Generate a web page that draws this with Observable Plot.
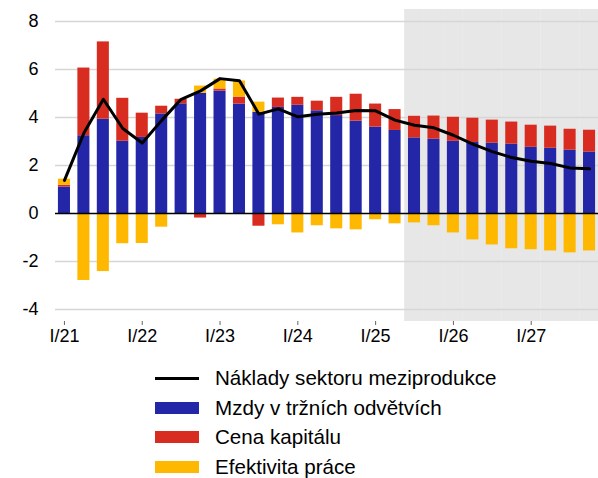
<!DOCTYPE html>
<html>
<head>
<meta charset="utf-8">
<script src="https://cdn.jsdelivr.net/npm/d3@7"></script>
<script src="https://cdn.jsdelivr.net/npm/@observablehq/plot@0.6"></script>
<style>
  body { margin: 0; background: #fff; font-family: "Liberation Sans", Arial, sans-serif; }
  #legend { margin-top: 11px; }
  .row { position: relative; height: 29.5px; }
  .sw { position: absolute; left: 155px; top: 9px; width: 44px; height: 12px; }
  .ln { position: absolute; left: 155px; top: 13.5px; width: 44px; height: 3px; background: #000; }
  .lbl { position: absolute; left: 215px; top: 0; line-height: 29.5px; font-size: 20.6px; color: #000; white-space: nowrap; }
</style>
</head>
<body>
<div id="chart"></div>
<div id="legend"></div>
<script>
const quarters = ["I/21","II/21","III/21","IV/21","I/22","II/22","III/22","IV/22","I/23","II/23","III/23","IV/23","I/24","II/24","III/24","IV/24","I/25","II/25","III/25","IV/25","I/26","II/26","III/26","IV/26","I/27","II/27","III/27","IV/27"];
const forecastQuarters = ["III/25","IV/25","I/26","II/26","III/26","IV/26","I/27","II/27","III/27","IV/27"];
const tickQuarters = ["I/21","I/22","I/23","I/24","I/25","I/26","I/27"];
const mzdy = [1.10,3.24,3.93,3.01,3.17,4.15,4.57,5.01,5.10,4.56,4.22,4.42,4.51,4.28,4.08,3.85,3.60,3.46,3.15,3.10,3.01,2.96,2.93,2.89,2.76,2.72,2.64,2.56];
const cenaKapitalu = [0.08,2.82,3.22,1.79,1.01,0.32,0.19,-0.19,0.09,0.29,-0.53,0.39,0.33,0.40,0.76,1.12,0.96,0.87,0.90,0.96,1.00,1.01,0.96,0.92,0.92,0.92,0.87,0.91];
const efektivita = [0.25,-2.79,-2.42,-1.26,-1.25,-0.57,-0.02,0.30,0.41,0.67,0.42,-0.47,-0.81,-0.51,-0.64,-0.68,-0.26,-0.43,-0.39,-0.51,-0.81,-1.10,-1.31,-1.47,-1.51,-1.56,-1.64,-1.56];
const naklady = [1.38,3.35,4.76,3.54,2.94,3.88,4.76,5.11,5.62,5.53,4.14,4.36,4.03,4.14,4.19,4.29,4.28,3.89,3.68,3.57,3.26,2.89,2.58,2.33,2.18,2.08,1.90,1.86];
const yTicks = [-4,-2,0,2,4,6,8];

const seriesNames = ["Mzdy v tržních odvětvích","Cena kapitálu","Efektivita práce"];
const lineName = "Náklady sektoru meziprodukce";
const colors = ["#2326a6","#d82c20","#ffb800"];
const seriesValues = [mzdy, cenaKapitalu, efektivita];

const bars = [];
seriesNames.forEach((s, k) => quarters.forEach((q, i) => bars.push({q, s, v: seriesValues[k][i]})));
const lineData = quarters.map((q, i) => ({q, v: naklady[i]}));

const chart = Plot.plot({
  width: 598,
  height: 352,
  marginTop: 9,
  marginBottom: 31,
  marginLeft: 55,
  marginRight: 0,
  style: {fontFamily: "'Liberation Sans', Arial, sans-serif", fontSize: "18px", color: "#000", background: "#fff"},
  x: {type: "band", domain: quarters, paddingInner: 0.38, paddingOuter: 0.15, round: false, label: null},
  y: {domain: [-4.5, 8.5], label: null},
  color: {domain: seriesNames, range: colors},
  marks: [
    Plot.barY(forecastQuarters, {x: d => d, y1: -4.5, y2: 8.5, fill: "#e7e7e7", insetLeft: -3.8, insetRight: -3.8}),
    Plot.ruleY(yTicks.filter(d => d !== 0), {stroke: "#d6d6d6", strokeWidth: 1.5}),
    Plot.barY(bars, {x: "q", y: "v", fill: "s", order: seriesNames}),
    Plot.ruleY([0], {stroke: "#000", strokeWidth: 1.5}),
    Plot.line(lineData, {x: "q", y: "v", stroke: "#000", strokeWidth: 3, strokeLinejoin: "round"}),
    Plot.axisY({ticks: yTicks, tickSize: 0, tickPadding: 17, tickFormat: d => String(d).replace("−","-"), label: null}),
    Plot.axisX({ticks: tickQuarters, tickSize: 4, tickPadding: 4, stroke: "#666", label: null})
  ]
});
document.getElementById("chart").appendChild(chart);

const legend = document.getElementById("legend");
const items = [{name: lineName, line: true}].concat(seriesNames.map((n, k) => ({name: n, color: colors[k]})));
items.forEach(it => {
  const row = document.createElement("div");
  row.className = "row";
  const sw = document.createElement("div");
  if (it.line) { sw.className = "ln"; } else { sw.className = "sw"; sw.style.background = it.color; }
  const lbl = document.createElement("div");
  lbl.className = "lbl";
  lbl.textContent = it.name;
  row.appendChild(sw); row.appendChild(lbl);
  legend.appendChild(row);
});
</script>
</body>
</html>
